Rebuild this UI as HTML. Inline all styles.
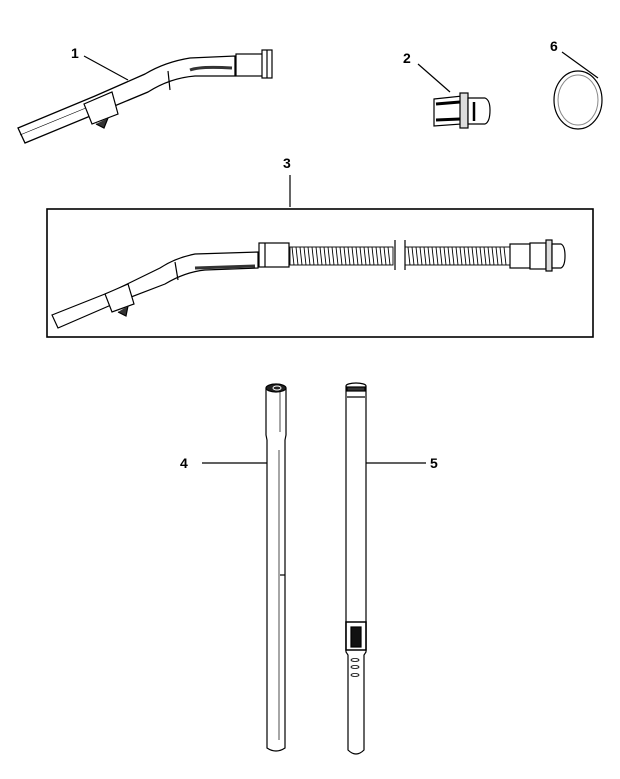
<!DOCTYPE html>
<html><head><style>
html,body{margin:0;padding:0;background:#fff;}
svg{display:block;}
text{font-family:"Liberation Sans",sans-serif;font-weight:bold;font-size:14px;fill:#000;}
</style></head><body>
<svg width="620" height="779" viewBox="0 0 620 779" xmlns="http://www.w3.org/2000/svg" fill="none" stroke="#000" stroke-width="1.2">
<!-- Part 1 -->
<text x="71" y="58" stroke="none">1</text>
<line x1="84" y1="56" x2="128" y2="80"/>
<path d="M18,128 L95,96 L145,74 Q165,62 190,58 L235,56 L235,76 L195,76 Q170,78 148,92 L100,112 L25,143 Z" fill="#fff" stroke-width="1.3"/>
<path d="M20,135 L98,103" stroke-width="0.6"/>
<path d="M168,71 L170,90" /><path d="M190,70 Q200,66 232,68" stroke="#333" stroke-width="3"/>
<path d="M84,104 L112,92 L118,114 L92,124 Z" fill="#fff"/>
<path d="M96,124 L104,128 L108,118" fill="#333"/>
<rect x="236" y="54" width="28" height="22" fill="#fff"/>
<rect x="262" y="50" width="10" height="28" fill="#fff"/>
<line x1="267" y1="50" x2="267" y2="78"/>
<!-- Part 2 -->
<text x="403" y="63" stroke="none">2</text>
<line x1="418" y1="64" x2="450" y2="92"/>
<path d="M434,99 L462,96 L462,124 L434,126 Z" fill="#fff"/>
<path d="M436,104 L460,102 M436,120 L460,119" stroke-width="3"/>
<rect x="460" y="93" width="8" height="35" fill="#ddd"/>
<path d="M468,98 L485,98 Q490,100 490,110 Q490,122 485,124 L468,124 Z" fill="#fff"/>
<path d="M474,102 L474,121" stroke-width="2.5"/>
<!-- Part 6 -->
<text x="550" y="51" stroke="none">6</text>
<line x1="562" y1="52" x2="598" y2="78"/>
<ellipse cx="578" cy="100" rx="24" ry="29"/>
<ellipse cx="578" cy="100" rx="20" ry="25" stroke="#888" stroke-width="1"/>
<!-- Part 3 -->
<text x="283" y="168" stroke="none">3</text>
<line x1="290" y1="175" x2="290" y2="207"/>
<rect x="47" y="209" width="546" height="128" stroke-width="1.6"/>
<path d="M52,315 L115,290 L160,268 Q175,258 195,254 L258,252 L258,268 L205,270 Q185,272 165,284 L118,302 L58,328 Z" fill="#fff"/>
<path d="M175,262 L178,280"/><path d="M195,268 L255,266" stroke="#333" stroke-width="3"/>
<path d="M105,294 L128,284 L134,304 L112,312 Z" fill="#fff"/>
<path d="M118,312 L126,316 L128,306" fill="#333"/>
<rect x="259" y="243" width="30" height="24" fill="#fff"/>
<line x1="265" y1="243" x2="265" y2="267"/>
<g stroke-width="0.9">
<rect x="290" y="247" width="103" height="18"/>
<rect x="405" y="247" width="105" height="18"/>
<path d="M292,247 L294,265 M296,247 L298,265 M300,247 L302,265 M304,247 L306,265 M308,247 L310,265 M312,247 L314,265 M316,247 L318,265 M320,247 L322,265 M324,247 L326,265 M328,247 L330,265 M332,247 L334,265 M336,247 L338,265 M340,247 L342,265 M344,247 L346,265 M348,247 L350,265 M352,247 L354,265 M356,247 L358,265 M360,247 L362,265 M364,247 L366,265 M368,247 L370,265 M372,247 L374,265 M376,247 L378,265 M380,247 L382,265 M384,247 L386,265 M388,247 L390,265"/>
<path d="M408,247 L410,265 M412,247 L414,265 M416,247 L418,265 M420,247 L422,265 M424,247 L426,265 M428,247 L430,265 M432,247 L434,265 M436,247 L438,265 M440,247 L442,265 M444,247 L446,265 M448,247 L450,265 M452,247 L454,265 M456,247 L458,265 M460,247 L462,265 M464,247 L466,265 M468,247 L470,265 M472,247 L474,265 M476,247 L478,265 M480,247 L482,265 M484,247 L486,265 M488,247 L490,265 M492,247 L494,265 M496,247 L498,265 M500,247 L502,265 M504,247 L506,265"/>
</g>
<line x1="395" y1="240" x2="395" y2="270"/><line x1="405" y1="240" x2="405" y2="270"/>
<rect x="510" y="244" width="20" height="24" fill="#fff"/>
<rect x="530" y="243" width="16" height="26" fill="#fff"/>
<rect x="546" y="240" width="6" height="31" fill="#ddd"/>
<path d="M552,244 L561,244 Q565,246 565,256 Q565,266 561,268 L552,268 Z" fill="#fff"/>
<!-- Part 4 -->
<text x="180" y="468" stroke="none">4</text>
<line x1="202" y1="463" x2="268" y2="463"/>
<path d="M266,388 L266,435 L267,440 L267,748 Q276,754 285,748 L285,440 L286,435 L286,388" fill="#fff"/>
<ellipse cx="276" cy="388" rx="10" ry="4" fill="#222"/>
<ellipse cx="277" cy="388" rx="4" ry="2" stroke="#fff" stroke-width="1"/>
<line x1="280" y1="392" x2="280" y2="432" stroke-width="0.7"/>
<line x1="279" y1="450" x2="279" y2="740" stroke-width="0.7"/>
<line x1="280" y1="575" x2="285" y2="575"/>
<!-- Part 5 -->
<text x="430" y="468" stroke="none">5</text>
<line x1="364" y1="463" x2="426" y2="463"/>
<path d="M346,386 L346,652 L348,655 L348,750 Q356,758 364,750 L364,655 L366,652 L366,386" fill="#fff"/>
<ellipse cx="356" cy="386" rx="10" ry="3" fill="#fff"/>
<rect x="347" y="387" width="18" height="4" fill="#333"/>
<line x1="347" y1="397" x2="365" y2="397"/>
<path d="M346,622 L366,622 L366,650 L346,650 Z" fill="#fff" stroke-width="1.6"/>
<rect x="351" y="627" width="10" height="20" fill="#111"/>
<ellipse cx="355" cy="660" rx="4" ry="1.5" stroke-width="0.8"/>
<ellipse cx="355" cy="667" rx="4" ry="1.5" stroke-width="0.8"/>
<ellipse cx="355" cy="675" rx="4" ry="1.5" stroke-width="0.8"/>
</svg>
</body></html>
